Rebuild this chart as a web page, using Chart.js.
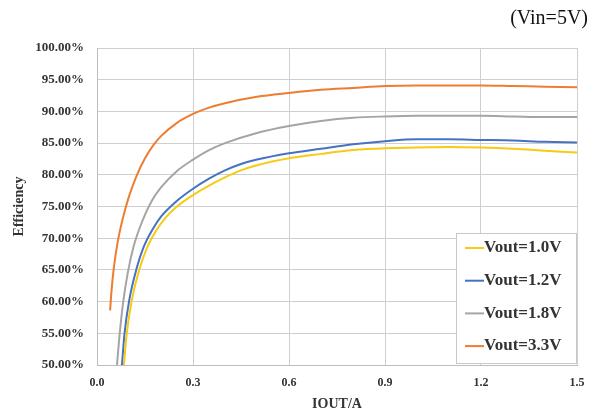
<!DOCTYPE html>
<html>
<head>
<meta charset="utf-8">
<script src="https://cdn.jsdelivr.net/npm/chart.js@4/dist/chart.umd.min.js"></script>
<style>
  html, body { margin: 0; padding: 0; background: #fff; }
  #wrap { width: 592px; height: 416px; }
</style>
</head>
<body>
<div id="wrap"><canvas id="myChart" width="592" height="416"></canvas></div>
<script>
// values
var labels = ['Vout=1.0V', 'Vout=1.2V', 'Vout=1.8V', 'Vout=3.3V'];
var colors = ['#F5CB14', '#4472C4', '#A5A5A5', '#ED7D31'];

var iout10 = [0.084, 0.093, 0.108, 0.128, 0.155, 0.185, 0.215, 0.25, 0.3, 0.35, 0.4, 0.45, 0.5, 0.6, 0.7, 0.8, 0.9, 1.0, 1.1, 1.2, 1.3, 1.4, 1.5];
var eff10  = [50, 55, 60, 64.3, 68.3, 71.2, 73.3, 75.0, 76.8, 78.3, 79.6, 80.7, 81.5, 82.6, 83.3, 83.9, 84.2, 84.3, 84.4, 84.3, 84.1, 83.8, 83.5];

var iout12 = [0.078, 0.086, 0.1, 0.12, 0.145, 0.175, 0.2, 0.25, 0.3, 0.35, 0.4, 0.45, 0.5, 0.6, 0.7, 0.8, 0.9, 1.0, 1.1, 1.2, 1.3, 1.4, 1.5];
var eff12  = [50, 55, 60, 64.5, 68.5, 71.5, 73.4, 75.9, 77.8, 79.4, 80.7, 81.7, 82.4, 83.4, 84.1, 84.8, 85.3, 85.6, 85.6, 85.5, 85.4, 85.2, 85.1];

var iout18 = [0.0625, 0.071, 0.082, 0.096, 0.115, 0.14, 0.17, 0.2, 0.25, 0.3, 0.35, 0.4, 0.5, 0.6, 0.7, 0.8, 0.9, 1.0, 1.1, 1.2, 1.3, 1.4, 1.5];
var eff18  = [50, 55, 60, 64.5, 68.8, 72.5, 75.8, 78.0, 80.6, 82.4, 83.9, 85.0, 86.6, 87.7, 88.5, 89.0, 89.2, 89.3, 89.3, 89.3, 89.2, 89.1, 89.1];

var iout33 = [0.041, 0.045, 0.053, 0.065, 0.08, 0.1, 0.125, 0.15, 0.175, 0.2, 0.25, 0.3, 0.35, 0.4, 0.5, 0.6, 0.7, 0.8, 0.9, 1.0, 1.1, 1.2, 1.3, 1.4, 1.5];
var eff33  = [58.6, 61.5, 65.5, 69.5, 73, 76.6, 80, 82.6, 84.6, 86.1, 88.2, 89.6, 90.6, 91.3, 92.3, 92.9, 93.4, 93.7, 94.0, 94.1, 94.1, 94.1, 94.0, 93.9, 93.8];

var xTicks = [0, 0.3, 0.6, 0.9, 1.2, 1.5];

var serif = '"Liberation Serif", "Times New Roman", serif';

function pts(xs, ys) {
    var out = [];
    for (var i = 0; i < xs.length; i++) out.push({ x: xs[i], y: ys[i] });
    return out;
}

var series = [pts(iout10, eff10), pts(iout12, eff12), pts(iout18, eff18), pts(iout33, eff33)];

// legend box drawn inside the plot, lower right
var boxLegend = {
    id: 'boxLegend',
    afterDraw: function (chart) {
        var ctx = chart.ctx;
        var a = chart.chartArea;
        var w = 120, h = 130;
        var x0 = a.right - w - 1, y0 = a.bottom - h - 2;
        ctx.save();
        ctx.fillStyle = '#fff';
        ctx.fillRect(x0, y0, w, h);
        ctx.strokeStyle = '#c8c8c8';
        ctx.lineWidth = 1;
        ctx.strokeRect(x0 + 0.5, y0 + 0.5, w, h);
        ctx.font = 'bold 17px ' + serif;
        ctx.textBaseline = 'middle';
        chart.data.datasets.forEach(function (ds, i) {
            var y = y0 + 15 + i * 32.7;
            ctx.strokeStyle = ds.borderColor;
            ctx.lineWidth = 2;
            ctx.beginPath();
            ctx.moveTo(x0 + 9, y);
            ctx.lineTo(x0 + 28, y);
            ctx.stroke();
            ctx.fillStyle = '#333';
            ctx.fillText(ds.label, x0 + 28, y);
        });
        ctx.restore();
    }
};

const ctx = document.getElementById('myChart').getContext('2d');
const myChart = new Chart(ctx, {
    type: 'line',
    data: {
        datasets: labels.map(function (l, i) {
            return {
                label: l,
                data: series[i],
                borderColor: colors[i],
                backgroundColor: colors[i],
                borderWidth: 2,
                pointRadius: 0,
                cubicInterpolationMode: 'monotone',
                fill: false
            };
        })
    },
    options: {
        responsive: false,
        animation: false,
        layout: { padding: { left: 0, right: 4, top: 0, bottom: 0 } },
        plugins: {
            legend: { display: false },
            tooltip: { enabled: false },
            title: {
                display: true,
                text: '(Vin=5V)',
                align: 'end',
                color: '#111',
                font: { family: serif, size: 20, weight: 'normal' },
                padding: { top: 7, bottom: 17 }
            }
        },
        scales: {
            x: {
                type: 'linear',
                min: 0,
                max: 1.5,
                afterBuildTicks: function (s) { s.ticks = xTicks.map(function (v) { return { value: v }; }); },
                afterFit: function (s) { s.height = 51; s.paddingRight = 15; },
                grid: { color: '#cfcfcf', drawTicks: false },
                border: { color: '#bdbdbd' },
                ticks: {
                    padding: 11,
                    color: '#333',
                    font: { family: serif, size: 12, weight: 'bold' },
                    callback: function (v) { return v.toFixed(1); }
                },
                title: {
                    display: true,
                    text: 'IOUT/A',
                    color: '#333',
                    font: { family: serif, size: 14, weight: 'bold' },
                    padding: { top: 0, bottom: 3 }
                }
            },
            y: {
                min: 50,
                max: 100,
                afterFit: function (s) { s.width = 97; },
                grid: { color: '#cfcfcf', drawTicks: false },
                border: { color: '#bdbdbd' },
                ticks: {
                    stepSize: 5,
                    padding: 13,
                    color: '#333',
                    font: { family: serif, size: 13, weight: 'bold' },
                    callback: function (v) { return v.toFixed(2) + '%'; }
                },
                title: {
                    display: true,
                    text: 'Efficiency',
                    color: '#333',
                    font: { family: serif, size: 14, weight: 'bold' },
                    padding: { top: 11, bottom: 0 }
                }
            }
        }
    },
    plugins: [boxLegend]
});
</script>
</body>
</html>
